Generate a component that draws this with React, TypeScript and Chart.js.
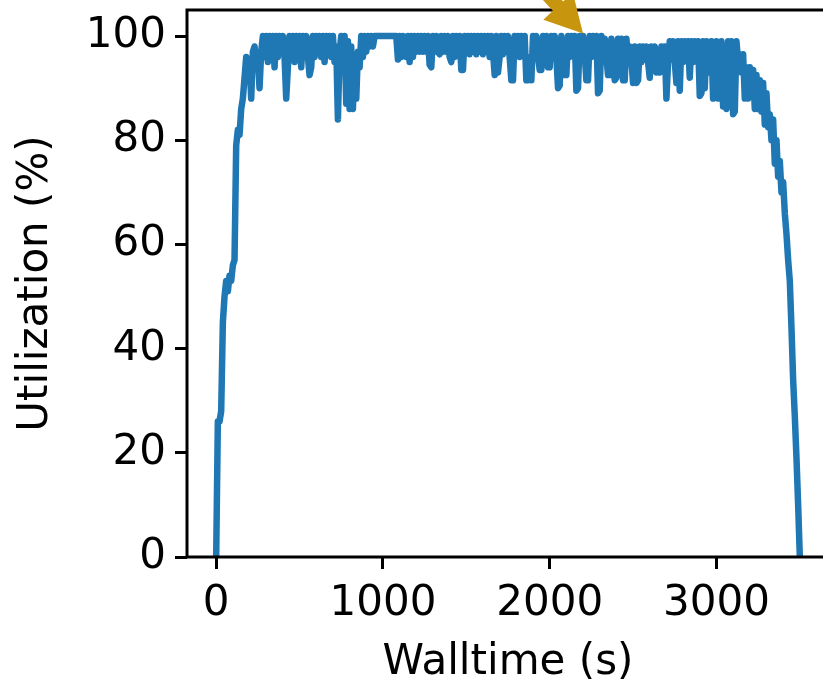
import React, { useEffect, useRef } from "react";
import { Chart, registerables } from "chart.js";

Chart.register(...registerables);

// ---- data ----
const SAMPLE_INTERVAL_S = 10; // one sample every 10 s, starting at t = 0
const UTILIZATION: number[] = [
  0, 26, 26, 28, 45, 50, 53, 51, 54, 53,
  56, 57, 79, 82, 81, 86, 88, 92, 96, 92,
  95, 88, 97, 98, 95, 96, 90, 97, 100, 96,
  100, 95, 100, 96, 100, 94, 100, 96, 100, 97,
  100, 96, 88, 94, 100, 97, 100, 95, 100, 96,
  100, 94, 100, 97, 100, 96, 92.5, 94, 100, 96,
  100, 97, 100, 96, 100, 95, 100, 97, 100, 96,
  100, 95, 98, 84, 97, 100, 96, 100, 87, 99,
  86, 98, 86, 96, 88, 97, 94, 100, 96, 100,
  97, 100, 98, 100, 98, 100, 100, 100, 100, 100,
  100, 100, 100, 100, 100, 100, 100, 100, 100, 95.5,
  100, 96, 100, 97, 96, 100, 95, 100, 96, 100,
  97, 100, 97, 100, 97, 100, 97, 100, 94.5, 94,
  100, 97, 100, 97, 96.5, 100, 97, 100, 97, 100,
  96, 95, 100, 96, 100, 97, 100, 93.5, 93.5, 100,
  97, 100, 96.5, 100, 97, 100, 96.5, 100, 97, 100,
  96.5, 100, 97, 100, 96, 100, 97, 92.5, 100, 93,
  96, 100, 96.5, 100, 97, 100, 96, 91.5, 91.5, 100,
  97, 100, 96, 100, 96.5, 100, 91.5, 91.5, 96, 91.5,
  100, 97, 100, 96, 93.5, 93.5, 100, 97, 100, 94,
  94, 100, 96.5, 100, 96, 90, 90.5, 100, 96, 92.5,
  92.5, 100, 96, 100, 96.5, 100, 89.5, 90, 100, 96,
  100, 96.5, 91.5, 91.5, 100, 96, 100, 96.5, 100, 89,
  89.5, 100, 96, 99.5, 96, 92.5, 92.5, 99.5, 96, 91.5,
  92, 99.5, 96, 99.5, 91.5, 91.5, 99.5, 95.5, 98, 95.5,
  91, 98, 91, 91.5, 98, 95, 98, 95.5, 98, 95,
  92, 98, 95.5, 98, 93, 95.5, 93, 98, 95, 98,
  88, 95, 99, 95.5, 99, 95, 91, 99, 89.5, 99,
  95, 99, 95.5, 99, 92, 99, 95, 99, 95.5, 99,
  88.5, 89, 99, 90, 99, 95, 93, 99, 88, 95,
  99, 88, 96, 99, 86.5, 95, 86, 99, 94, 99,
  85, 85.5, 99, 95, 96.5, 93, 96.5, 88, 94, 88,
  94, 89, 93.5, 86, 92.5, 86, 91.5, 85.5, 91, 83,
  89, 82.5, 85, 80, 84, 75.5, 80, 73, 76, 70,
  72, 66, 62, 57, 53, 44, 34, 27, 19, 10,
  0,
];
const X_TICKS = [0, 1000, 2000, 3000];
const Y_TICKS = [0, 20, 40, 60, 80, 100];
const X_MIN = -175;
const X_MAX = 3675;
const Y_MIN = 0;
const Y_MAX = 105;
const X_TITLE = "Walltime (s)";
const Y_TITLE = "Utilization (%)";
const ARROW_TIP = { x: 2200, y: 100.5 };
const ARROW_TAIL = { x: 1594, y: 121.7 };

// ---- style ----
const FONT_FAMILY = "'DejaVu Sans', 'Liberation Sans', sans-serif";
const FONT_SIZE = 42;
const LINE_COLOR = "#1f77b4";
const ARROW_COLOR = "#c8960e";
const CANVAS_W = 840;
const CANVAS_H = 686;
const AREA_LEFT = 187;
const AREA_TOP = 10;
const AREA_RIGHT = 829;
const AREA_BOTTOM = 557;
const SPINE_W = 3;

const framePlugin = {
  id: "frame",
  afterDatasetsDraw(chart: any) {
    const { ctx, chartArea: a } = chart;
    ctx.save();
    ctx.strokeStyle = "#000";
    ctx.lineWidth = SPINE_W;
    ctx.strokeRect(a.left, a.top, a.right - a.left, a.bottom - a.top);
    ctx.restore();
  },
};

const arrowPlugin = {
  id: "arrow",
  afterDraw(chart: any) {
    const { ctx } = chart;
    const xs = chart.scales.x;
    const ys = chart.scales.y;
    const tx = xs.getPixelForValue(ARROW_TIP.x);
    const ty = ys.getPixelForValue(ARROW_TIP.y);
    const ex = xs.getPixelForValue(ARROW_TAIL.x);
    const ey = ys.getPixelForValue(ARROW_TAIL.y);
    let ux = ex - tx;
    let uy = ey - ty;
    const len = Math.hypot(ux, uy);
    ux /= len;
    uy /= len;
    const nx = -uy;
    const ny = ux;
    const headLen = 37;
    const headHalf = 20;
    const shaftHalf = 7;
    const bx = tx + ux * headLen;
    const by = ty + uy * headLen;
    ctx.save();
    ctx.fillStyle = ARROW_COLOR;
    ctx.beginPath();
    ctx.moveTo(tx, ty);
    ctx.lineTo(bx + nx * headHalf, by + ny * headHalf);
    ctx.lineTo(bx + nx * shaftHalf, by + ny * shaftHalf);
    ctx.lineTo(ex + nx * shaftHalf, ey + ny * shaftHalf);
    ctx.lineTo(ex - nx * shaftHalf, ey - ny * shaftHalf);
    ctx.lineTo(bx - nx * shaftHalf, by - ny * shaftHalf);
    ctx.lineTo(bx - nx * headHalf, by - ny * headHalf);
    ctx.closePath();
    ctx.fill();
    ctx.restore();
  },
};

export default function App() {
  const canvasRef = useRef<HTMLCanvasElement | null>(null);

  useEffect(() => {
    const canvas = canvasRef.current;
    if (!canvas) return;
    const points = UTILIZATION.map((v, i) => ({ x: i * SAMPLE_INTERVAL_S, y: v }));
    const font = { family: FONT_FAMILY, size: FONT_SIZE };
    const gridOpts = {
      display: true,
      drawOnChartArea: false,
      drawTicks: true,
      tickLength: 12,
      tickWidth: SPINE_W,
      tickColor: "#000",
    };
    const chart = new Chart(canvas, {
      type: "line",
      data: {
        datasets: [
          {
            data: points,
            borderColor: LINE_COLOR,
            backgroundColor: LINE_COLOR,
            borderWidth: 6.5,
            pointRadius: 0,
            pointHoverRadius: 0,
            tension: 0,
            fill: false,
            borderJoinStyle: "round",
            borderCapStyle: "butt",
            clip: 0,
          } as any,
        ],
      },
      options: {
        animation: false,
        responsive: false,
        devicePixelRatio: 1,
        events: [],
        layout: {
          padding: { left: 0, top: AREA_TOP, right: CANVAS_W - AREA_RIGHT, bottom: 0 },
        },
        plugins: {
          legend: { display: false },
          tooltip: { enabled: false },
        },
        scales: {
          x: {
            type: "linear",
            min: X_MIN,
            max: X_MAX,
            afterBuildTicks: (s: any) => {
              s.ticks = X_TICKS.map((value) => ({ value }));
            },
            afterFit: (s: any) => {
              s.height = CANVAS_H - AREA_BOTTOM;
              s.paddingLeft = 0;
              s.paddingRight = 0;
            },
            ticks: {
              font,
              color: "#000",
              padding: 10,
              maxRotation: 0,
              autoSkip: false,
              callback: (v: any) => String(v),
            },
            grid: gridOpts,
            border: { display: false },
            title: {
              display: true,
              text: X_TITLE,
              font,
              color: "#000",
              padding: { top: 0, bottom: -2 },
            },
          },
          y: {
            type: "linear",
            min: Y_MIN,
            max: Y_MAX,
            afterBuildTicks: (s: any) => {
              s.ticks = Y_TICKS.map((value) => ({ value }));
            },
            afterFit: (s: any) => {
              s.width = AREA_LEFT;
              s.paddingTop = 0;
              s.paddingBottom = 0;
            },
            ticks: {
              font,
              color: "#000",
              padding: 9,
              autoSkip: false,
              callback: (v: any) => String(v),
            },
            grid: gridOpts,
            border: { display: false },
            title: {
              display: true,
              text: Y_TITLE,
              font,
              color: "#000",
              padding: { top: 11, bottom: 0 },
            },
          },
        },
      },
      plugins: [framePlugin, arrowPlugin],
    } as any);
    return () => chart.destroy();
  }, []);

  return (
    <div
      style={{
        position: "fixed",
        left: 0,
        top: 0,
        width: 823,
        height: 686,
        overflow: "hidden",
        background: "#fff",
      }}
    >
      <canvas ref={canvasRef} width={CANVAS_W} height={CANVAS_H} style={{ display: "block" }} />
    </div>
  );
}
